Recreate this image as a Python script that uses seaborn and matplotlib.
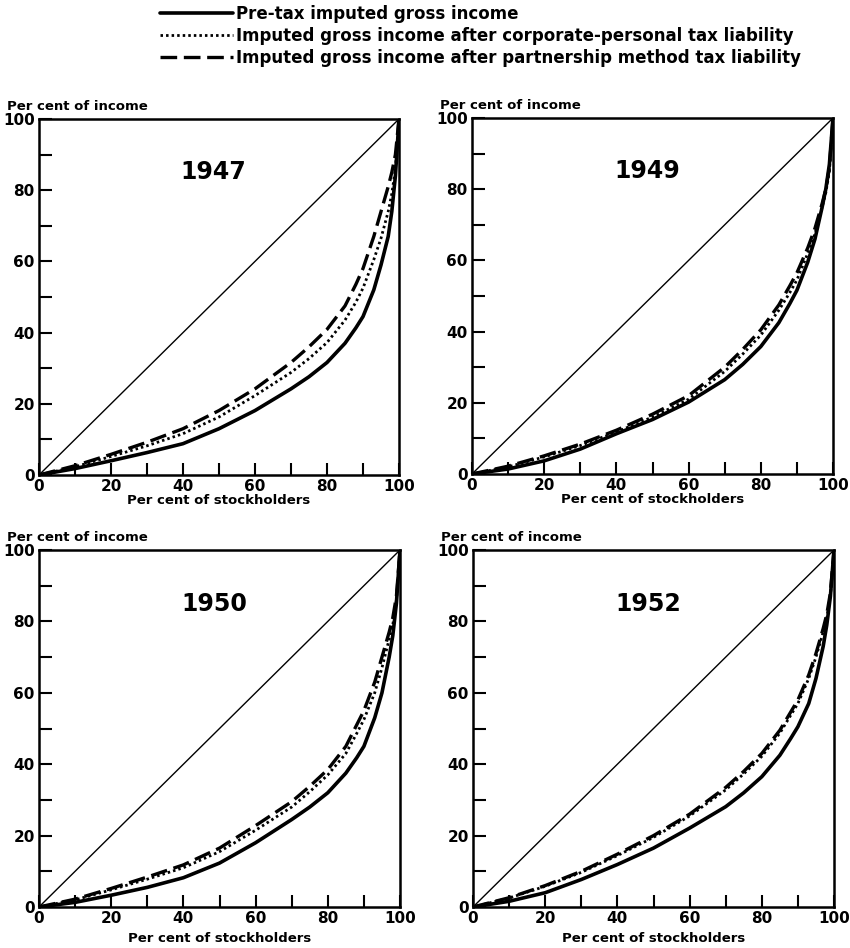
import matplotlib
matplotlib.use("Agg")
import matplotlib.pyplot as plt
import seaborn as sns
import pandas as pd

# share of stockholders (x) -- common grid for all curves
pct_holders = [0, 10, 20, 30, 40, 50, 60, 70, 75, 80, 85, 88, 90, 93, 95, 97, 98, 99, 100]

# per cent of income
pretax_1947 = [0, 1.8, 4, 6.3, 8.8, 13, 18.1, 24.2, 27.6, 31.6, 37, 41.3, 44.5, 52, 59, 67, 74, 84, 100]
corp_1947 = [0, 2.3, 5.2, 8.2, 11.6, 16.3, 22.3, 28.8, 32.7, 37.2, 43.5, 48.5, 52.5, 60.5, 66.5, 74, 79, 86, 100]
partner_1947 = [0, 2.6, 5.8, 9.2, 13, 18.1, 24.2, 31.6, 36, 40.9, 47.5, 53.5, 58, 67, 74, 81, 85, 90, 100]

pretax_1949 = [0, 1.4, 3.7, 7, 11.3, 15.3, 20.2, 26.5, 30.8, 35.8, 42.5, 47.8, 51.6, 59.5, 66, 75, 80, 87, 100]
corp_1949 = [0, 2, 4.8, 8, 11.8, 16, 21, 28.8, 33.7, 39, 46, 50.9, 54.5, 62, 67.5, 75, 79, 85, 100]
partner_1949 = [0, 2.2, 5.1, 8.4, 12.3, 16.8, 22, 30, 35, 40.5, 47.5, 52.8, 56.5, 63.5, 69, 76, 80, 86, 100]

pretax_1950 = [0, 1.3, 3.3, 5.5, 8.2, 12.3, 18, 24.5, 28, 32, 37.5, 41.8, 45, 53, 60, 70, 76, 85, 100]
corp_1950 = [0, 2, 4.8, 7.8, 11, 15.5, 21.5, 28, 32.3, 37, 43, 48.6, 52.5, 60, 67, 75, 79, 86, 100]
partner_1950 = [0, 2.2, 5.2, 8.4, 11.8, 16.5, 22.8, 29.5, 33.8, 38.5, 45, 51, 55, 63, 70, 77, 81, 87, 100]

pretax_1952 = [0, 1.6, 4, 7.7, 11.9, 16.5, 22.1, 28.1, 32, 36.5, 42.5, 47.2, 50.5, 57, 64, 73, 79, 87, 100]
corp_1952 = [0, 2.5, 5.8, 9.7, 14.4, 19.5, 25.5, 32.8, 37.3, 42.2, 48.7, 53.7, 57, 64, 70, 77, 81, 87, 100]
partner_1952 = [0, 2.6, 6, 10, 14.8, 20, 26, 33.5, 38, 43, 49.5, 54.6, 58, 65, 71, 78, 82, 88, 100]

years = ["1947", "1949", "1950", "1952"]
series_names = ["Pre-tax imputed gross income",
                "Imputed gross income after corporate-personal tax liability",
                "Imputed gross income after partnership method tax liability"]
ticks_major = [0, 20, 40, 60, 80, 100]
ticks_minor = [10, 30, 50, 70, 90]

curves = {
    "1947": [pretax_1947, corp_1947, partner_1947],
    "1949": [pretax_1949, corp_1949, partner_1949],
    "1950": [pretax_1950, corp_1950, partner_1950],
    "1952": [pretax_1952, corp_1952, partner_1952],
}

sns.set_theme(style="ticks")
plt.rcParams['font.family'] = ['DejaVu Sans']
plt.rcParams['font.weight'] = 'bold'
plt.rcParams['text.color'] = 'black'
plt.rcParams['xtick.color'] = 'black'
plt.rcParams['ytick.color'] = 'black'
plt.rcParams['axes.labelcolor'] = 'black'

styles = [dict(lw=2.6, linestyle='-'),
          dict(lw=2.0, linestyle=(0, (0.9, 1.1))),
          dict(lw=2.4, linestyle=(0, (5, 2)))]

fig = plt.figure(figsize=(8.5, 9.48), dpi=100)
W, H = 850, 948
# pixel boxes: left, top, right, bottom
boxes = [(39, 119, 399, 475), (472, 118, 833, 474),
         (39, 550, 400, 907), (473, 550, 834, 907)]

handles = []
for i, (yr, (l, t, r, b)) in enumerate(zip(years, boxes)):
    ax = fig.add_axes([l / W, (H - b) / H, (r - l) / W, (b - t) / H])
    ax.plot([0, 100], [0, 100], color='black', lw=1.0)
    for name, vals, st in zip(series_names, curves[yr], styles):
        df = pd.DataFrame({"x": pct_holders, "y": vals})
        sns.lineplot(data=df, x="x", y="y", ax=ax, color='black',
                     lw=st['lw'], linestyle=st['linestyle'], label=name,
                     legend=False)
    if not handles:
        handles = ax.get_lines()[1:4]
    ax.set_xlim(0, 100)
    ax.set_ylim(0, 100)
    ax.set_xticks(ticks_major)
    ax.set_yticks(ticks_major)
    ax.set_xticks(ticks_minor, minor=True)
    ax.set_yticks(ticks_minor, minor=True)
    ax.tick_params(which='both', direction='in', length=9, width=1.5,
                   labelsize=11, pad=3, top=False, right=False,
                   colors='black')
    for lab in ax.get_xticklabels() + ax.get_yticklabels():
        lab.set_fontweight('bold')
    for sp in ax.spines.values():
        sp.set_linewidth(1.8)
        sp.set_color('black')
    ax.set_xlabel("Per cent of stockholders", fontsize=9.5, fontweight='bold',
                  labelpad=0 if i < 2 else 4, color='black')
    ax.set_ylabel("")
    ax.text(-0.09, 1.035, "Per cent of income", transform=ax.transAxes,
            fontsize=9.5, fontweight='bold', ha='left', va='center')
    ax.text(48.5, 85, yr, fontsize=17, fontweight='bold', ha='center',
            va='center')

fig.legend(handles=handles, labels=series_names, loc='upper left',
           bbox_to_anchor=(150 / W, 1.005), frameon=False, handlelength=4.4,
           handletextpad=0.15, labelspacing=0.22, borderaxespad=0.2,
           prop={'size': 12, 'weight': 'bold'})

fig.savefig("out.png", dpi=100, facecolor='white')
